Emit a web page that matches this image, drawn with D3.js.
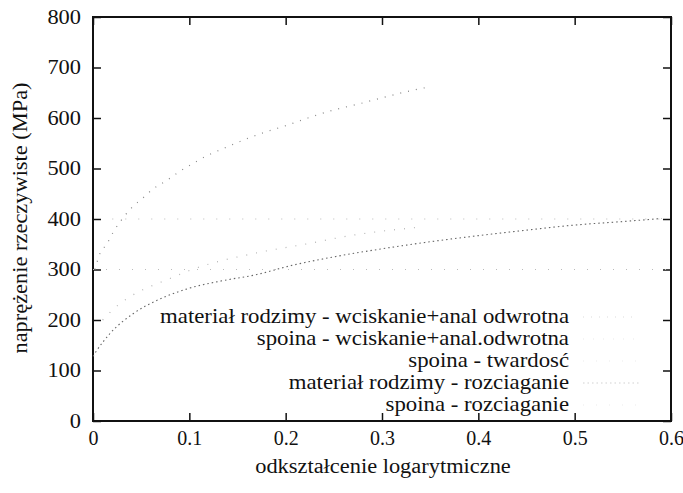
<!DOCTYPE html>
<html>
<head>
<meta charset="utf-8">
<script src="https://cdn.jsdelivr.net/npm/d3@7"></script>
<style>
	body { margin: 0; background: #fff; }
	.frame { fill: none; stroke: #111; stroke-width: 2; }
	.tick line { stroke: #111; stroke-width: 1.5; }
	.domain { display: none; }
</style>
</head>
<body>
<svg id="chart" width="683" height="493"></svg>
<script>
var xTicks = [0, 0.1, 0.2, 0.3, 0.4, 0.5, 0.6];
var yTicks = [0, 100, 200, 300, 400, 500, 600, 700, 800];

var names = [
	'materiał rodzimy - wciskanie+anal odwrotna',
	'spoina - wciskanie+anal.odwrotna',
	'spoina - twardosć',
	'materiał rodzimy - rozciaganie',
	'spoina - rozciaganie'
];

var rodzimyWciskX = [0.002, 0.008, 0.0135, 0.021, 0.028, 0.04, 0.052, 0.062, 0.077, 0.089, 0.103, 0.118, 0.132, 0.147, 0.161, 0.182, 0.202, 0.223, 0.25, 0.272, 0.3, 0.332, 0.345];
var rodzimyWciskY = [300, 335, 348, 374, 394, 422, 442, 459, 477, 493, 509, 525, 537, 549, 560, 574, 586, 600, 616, 626, 640, 655, 660];
var spoinaWciskX = [0.01, 0.025, 0.04, 0.064, 0.077, 0.1, 0.17, 0.22, 0.27, 0.3, 0.33, 0.34];
var spoinaWciskY = [200, 228, 248, 270, 280, 298, 333, 350, 368, 376, 382, 384];
var twardoscX = [0.02, 0.6];
var twardoscY = [400, 400];
var rodzimyRozcX = [0, 0.003, 0.018, 0.042, 0.07, 0.1, 0.135, 0.17, 0.204, 0.25, 0.3, 0.35, 0.4, 0.45, 0.5, 0.55, 0.59];
var rodzimyRozcY = [128, 137, 174, 213, 242, 263, 278, 290, 307, 325, 341, 355, 367, 378, 388, 395, 401];
var spoinaRozcX = [0, 0.6];
var spoinaRozcY = [300, 300];

var series = [
	{ x: rodzimyWciskX, y: rodzimyWciskY, color: '#888', dash: '1,7', width: 1.2 },
	{ x: spoinaWciskX, y: spoinaWciskY, color: '#b5b5b5', dash: '1,9', width: 1.2 },
	{ x: twardoscX, y: twardoscY, color: '#bbb', dash: '1,12', width: 1.2 },
	{ x: rodzimyRozcX, y: rodzimyRozcY, color: '#666', dash: '1.5,3', width: 1.1 },
	{ x: spoinaRozcX, y: spoinaRozcY, color: '#bbb', dash: '1,12', width: 1.2 }
];

var FONT = '"Liberation Serif"';
var W = 683, H = 493;
var m = { left: 93, right: 12, top: 17, bottom: 72 };
var svg = d3.select('#chart');

var scale = {
	x: d3.scaleLinear().domain([0, 0.6]).range([m.left, W - m.right]),
	y: d3.scaleLinear().domain([0, 800]).range([H - m.bottom, m.top])
};

draw_axes(svg, scale);
draw_curves(svg, scale);
draw_legend(svg);
draw_titles(svg);
svg.selectAll('.y-axis text, .title').each(stretch(1.12));
svg.selectAll('.legend text').each(stretch(1.085));

function draw_axes(svg, scale){
	var x0 = scale.x.range()[0], x1 = scale.x.range()[1];
	var y0 = scale.y.range()[0], y1 = scale.y.range()[1];
	var tick = 8;

	svg.append('g')
		.attr('class', 'tick x-axis')
		.attr('transform', 'translate(0,' + y0 + ')')
		.call(d3.axisBottom(scale.x).tickValues(xTicks).tickSize(-tick).tickPadding(10).tickFormat(d3.format('')))
		.call(style_labels);
	svg.append('g')
		.attr('class', 'tick')
		.attr('transform', 'translate(0,' + y1 + ')')
		.call(d3.axisTop(scale.x).tickValues(xTicks).tickSize(-tick).tickFormat(''));
	svg.append('g')
		.attr('class', 'tick y-axis')
		.attr('transform', 'translate(' + x0 + ',0)')
		.call(d3.axisLeft(scale.y).tickValues(yTicks).tickSize(-tick).tickPadding(12))
		.call(style_labels);
	svg.append('g')
		.attr('class', 'tick')
		.attr('transform', 'translate(' + x1 + ',0)')
		.call(d3.axisRight(scale.y).tickValues(yTicks).tickSize(-tick).tickFormat(''));

	svg.append('rect')
		.attr('class', 'frame')
		.attr('x', x0)
		.attr('y', y1)
		.attr('width', x1 - x0)
		.attr('height', y0 - y1);
}

function style_labels(g){
	g.attr('font-family', null)
		.selectAll('text')
		.style('font-family', FONT)
		.style('font-size', '20px')
		.attr('fill', '#111');
}

function stretch(k){
	return function(){
		var w = this.getComputedTextLength();
		if (w > 0) d3.select(this)
			.attr('textLength', w * k)
			.attr('lengthAdjust', 'spacingAndGlyphs');
	}
}

function draw_curves(svg, scale){
	var line = d3.line()
		.curve(d3.curveMonotoneX)
		.x(function(d){ return scale.x(d[0]) })
		.y(function(d){ return scale.y(d[1]) });

	svg.selectAll('.curve')
		.data(series)
		.enter()
		.append('path')
		.attr('class', 'curve')
		.attr('fill', 'none')
		.attr('stroke', function(d){ return d.color })
		.attr('stroke-width', function(d){ return d.width })
		.attr('stroke-dasharray', function(d){ return d.dash })
		.attr('d', function(d){ return line(d3.zip(d.x, d.y)) });
}

function draw_legend(svg){
	var g = svg.append('g')
		.attr('class', 'legend');
	var rows = g.selectAll('.row')
		.data(names)
		.enter()
		.append('g')
		.attr('transform', function(d, i){ return 'translate(569,' + (323 + i * 22) + ')' });
	rows.append('text')
		.attr('text-anchor', 'end')
		.style('font-family', FONT)
		.style('font-size', '21px')
		.attr('fill', '#111')
		.text(function(d){ return d });
	rows.append('line')
		.attr('x1', 14)
		.attr('x2', 70)
		.attr('y1', -6)
		.attr('y2', -6)
		.attr('stroke', function(d, i){ return series[i].color })
		.attr('stroke-width', 1)
		.attr('stroke-opacity', 0.3)
		.attr('stroke-dasharray', function(d, i){ return series[i].dash });
}

function draw_titles(svg){
	svg.append('text')
		.attr('class', 'title')
		.attr('x', 383)
		.attr('y', 473)
		.attr('text-anchor', 'middle')
		.style('font-family', FONT)
		.style('font-size', '20px')
		.attr('fill', '#111')
		.text('odkształcenie logarytmiczne');
	svg.append('text')
		.attr('class', 'title')
		.attr('transform', 'translate(27,218) rotate(-90)')
		.attr('text-anchor', 'middle')
		.style('font-family', FONT)
		.style('font-size', '20px')
		.attr('fill', '#111')
		.text('naprężenie rzeczywiste (MPa)');
}
</script>
</body>
</html>
